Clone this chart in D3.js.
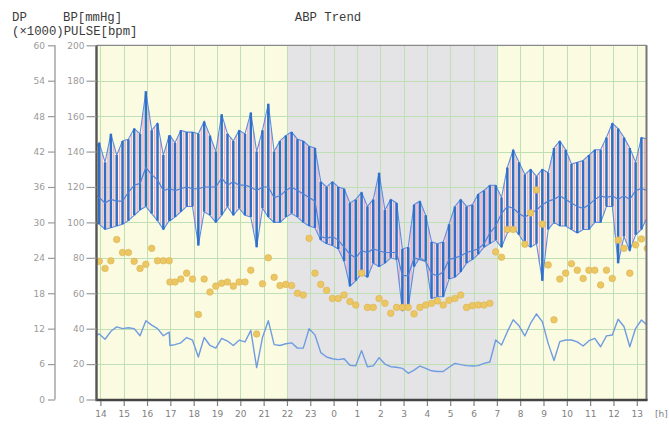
<!DOCTYPE html>
<html>
<head>
<meta charset="utf-8">
<script src="https://cdn.jsdelivr.net/npm/d3@7"></script>
<style>
  html, body { margin: 0; padding: 0; background: #fff; }
  svg { display: block; }
</style>
</head>
<body>
<svg id="chart" width="669" height="424"></svg>
<script>
// ---- Measurement data (ambulatory BP, every 15 min) ----
const times = ["13:42","13:57","14:12","14:27","14:42","14:57","15:12","15:27","15:42","15:57",
  "16:12","16:27","16:42","16:57","16:59","17:12","17:27","17:42","17:57","18:12","18:27","18:42",
  "18:57","19:12","19:27","19:42","19:57","20:12","20:27","20:42","20:57","21:12","21:27","21:42",
  "21:57","22:12","22:27","22:42","22:57","23:12","23:27","23:42","23:57","0:12","0:27","0:42",
  "0:57","1:12","1:27","1:42","1:57","2:12","2:27","2:42","2:57","3:12","3:27","3:42","3:57",
  "4:12","4:27","4:42","4:57","5:12","5:27","5:42","5:57","6:12","6:27","6:42","6:57","7:12",
  "7:27","7:42","7:57","8:12","8:27","8:42","8:57","9:12","9:27","9:42","9:57","10:12","10:27",
  "10:42","10:57","11:12","11:27","11:42","11:57","12:12","12:27","12:42","12:57","13:12","13:27"];

const systolic = [140,145,134,150,138,146,147,153,150,174,152,156,138,149,149,145,152,151,151,150,
  157,149,140,161,150,146,152,150,162,140,152,167,140,146,149,151,147,146,143,142,123,120,123,120,
  119,111,113,117,109,113,128,107,113,111,85,86,110,112,104,89,88,89,99,109,113,109,110,116,118,121,
  121,114,131,141,134,127,130,126,130,128,142,146,141,133,134,135,138,141,141,148,156,153,148,142,
  134,148,147];

const diastolic = [101,99,96,97,98,99,101,104,107,109,105,101,96,101,101,103,106,109,109,87,106,104,
  100,104,109,104,108,104,103,86,108,103,100,100,103,105,103,100,98,97,90,88,87,85,78,64,67,71,69,77,
  75,77,80,79,50,52,75,80,78,57,58,58,68,69,72,77,79,82,86,88,90,86,94,97,93,88,86,88,67,96,100,98,
  98,96,94,96,96,100,100,109,109,77,92,84,93,96,103];

const meanBP = [116,114,111,113,112,112,117,121,122,131,127,124,118,119,119,118,119,120,119,119,120,
  120,120,125,121,123,121,121,120,118,120,120,114,115,118,120,118,116,114,112,92,91,92,90,86,82,80,
  84,83,85,84,83,83,83,70,70,80,79,78,71,70,72,79,80,81,83,84,85,88,94,98,105,109,108,105,103,105,
  107,110,112,113,115,113,111,109,108,110,113,115,114,115,113,115,113,118,119,118];

const pulse = [35.5,37,34,38.5,41,40,40.5,40,36,44.5,42,40,36,38,30.5,31,32,35,33.5,24,35,30.5,29,
  34.5,33,30.5,33.5,32.5,39,18,35,44.5,31,30.5,31.5,32,29,29,40,36.5,26.5,24,23,22.5,23,19.3,19,
  27.6,18.5,19,23.6,20,18.5,18.2,17.6,14.8,16.6,18.9,17.6,16.2,15.8,15.8,18.2,20.4,19.7,19.1,18.9,
  19.1,20.4,21.2,33.6,30.8,38.3,45,41.6,35.9,43.1,48.3,44,31.7,22,32.7,33.6,33.6,32.5,30.2,33.2,
  34.5,29.8,35.9,36.4,45.3,41.2,29.8,40.2,44.9,42];

// Double product (x1000)
const doubleProduct = [null,23.4,22.2,23.5,27.1,24.9,24.9,23.4,22.2,22.9,25.6,23.5,23.5,23.5,19.9,
  19.9,20.4,21.4,20.4,14.4,20.4,18.2,19.2,19.7,19.9,19.2,19.9,19.9,21.9,11.1,19.6,24.0,20.7,19.3,
  19.5,19.3,18.0,17.7,27.3,21.4,19.5,18.5,17.1,17.1,17.7,16.6,16.0,21.4,15.6,15.6,17.1,16.3,14.6,
  15.6,15.6,15.6,14.5,15.6,16.0,16.3,16.7,16.0,16.8,17.1,17.7,15.6,15.9,16.0,16.0,16.3,25.0,24.1,
  28.8,28.8,null,26.3,31.6,35.5,29.7,22.8,13.5,20.4,21.4,23.0,21.9,20.5,21.9,21.9,19.4,21.9,20.5,
  27.0,25.6,21.4,26.2,27.2,25.6];

const hourLabels = ["14","15","16","17","18","19","20","21","22","23","0","1","2","3","4","5","6",
  "7","8","9","10","11","12","13"];
const bpTicks = [0,20,40,60,80,100,120,140,160,180,200];
const dpTicks = [0,6,12,18,24,30,36,42,48,54,60];
const recordStart = "13:50", recordEnd = "13:25";
const sleepStart = "22:00", sleepEnd = "7:00";

// ---- helpers ----
// Turn a list of clock times into continuous hours, rolling over midnight.
function toHours(list) {
  let off = 0, prev = -Infinity;
  return list.map(s => {
    const [h, m] = s.split(":").map(Number);
    let v = h + m / 60 + off;
    if (v < prev) { off += 24; v += 24; }
    prev = v;
    return v;
  });
}
const tHours = toHours(times);
const domStart = toHours([recordStart])[0];
const domEnd = toHours([recordEnd])[0] + 24;
const sleepA = toHours([sleepStart])[0];
const sleepB = toHours([sleepEnd])[0] + 24;
const hourPos = toHours(hourLabels.map(h => h + ":00"));

const rows = times.map((t, i) => ({
  t: tHours[i], sys: systolic[i], dia: diastolic[i], map: meanBP[i],
  hr: pulse[i], dp: doubleProduct[i]
}));

// ---- layout ----
const plot = { left: 96.5, right: 646.5, top: 45.3, bottom: 399.5 };
const svg = d3.select("#chart");

const x = d3.scaleLinear().domain([domStart, domEnd]).range([plot.left, plot.right]);
const y = d3.scaleLinear().domain([0, 200]).range([plot.bottom, plot.top]);
const yDP = d3.scaleLinear().domain([0, 60]).range([plot.bottom, plot.top]);

svg.append("defs").append("clipPath").attr("id", "plotClip")
  .append("rect")
  .attr("x", plot.left).attr("y", plot.top)
  .attr("width", plot.right - plot.left).attr("height", plot.bottom - plot.top);

// background: awake / asleep periods
const bg = svg.append("g");
bg.append("rect")
  .attr("x", plot.left).attr("y", plot.top)
  .attr("width", plot.right - plot.left).attr("height", plot.bottom - plot.top)
  .attr("fill", "#fbfbe1");
bg.append("rect")
  .attr("x", x(sleepA)).attr("y", plot.top)
  .attr("width", x(sleepB) - x(sleepA)).attr("height", plot.bottom - plot.top)
  .attr("fill", "#e4e4e7");

// grid
const grid = svg.append("g").attr("stroke", "#bfe0b4").attr("stroke-width", 1);
grid.selectAll("line.v").data(hourPos).join("line")
  .attr("x1", d => Math.round(x(d)) + 0.5).attr("x2", d => Math.round(x(d)) + 0.5)
  .attr("y1", plot.top).attr("y2", plot.bottom);
grid.selectAll("line.h").data(bpTicks.filter(v => v > 0 && v < 200)).join("line")
  .attr("x1", plot.left).attr("x2", plot.right)
  .attr("y1", d => Math.round(y(d)) + 0.5).attr("y2", d => Math.round(y(d)) + 0.5);

const marks = svg.append("g").attr("clip-path", "url(#plotClip)");

// pink hatch between systolic and diastolic envelopes
const mids = [];
for (let i = 0; i < rows.length - 1; i++) {
  const a = rows[i], b = rows[i + 1];
  if (b.t - a.t < 0.1) continue;
  mids.push({ t: (a.t + b.t) / 2, sys: (a.sys + b.sys) / 2, dia: (a.dia + b.dia) / 2 });
}
marks.append("g").selectAll("line").data(mids).join("line")
  .attr("x1", d => x(d.t)).attr("x2", d => x(d.t))
  .attr("y1", d => y(d.sys)).attr("y2", d => y(d.dia))
  .attr("stroke", "#f2a9c2").attr("stroke-width", 1.3);

// envelope lines
const lineSys = d3.line().x(d => x(d.t)).y(d => y(d.sys));
const lineDia = d3.line().x(d => x(d.t)).y(d => y(d.dia));
marks.append("path").attr("d", lineSys(rows))
  .attr("fill", "none").attr("stroke", "#5a8ee0").attr("stroke-width", 1.1);
marks.append("path").attr("d", lineDia(rows))
  .attr("fill", "none").attr("stroke", "#5a8ee0").attr("stroke-width", 1.1);

// systolic–diastolic bars
marks.append("g").selectAll("line").data(rows).join("line")
  .attr("x1", d => x(d.t)).attr("x2", d => x(d.t))
  .attr("y1", d => y(d.sys)).attr("y2", d => y(d.dia))
  .attr("stroke", "#2f6ec9").attr("stroke-width", 2.5);

// mean arterial pressure
marks.append("path")
  .attr("d", d3.line().x(d => x(d.t)).y(d => y(d.map))(rows))
  .attr("fill", "none").attr("stroke", "#4f82d6").attr("stroke-width", 1.2);

// pulse
marks.append("path")
  .attr("d", d3.line().x(d => x(d.t)).y(d => y(d.hr))(rows))
  .attr("fill", "none").attr("stroke", "#6f9be0").attr("stroke-width", 1.4)
  .attr("stroke-linejoin", "round");

// double product dots
marks.append("g").selectAll("circle").data(rows.filter(d => d.dp != null)).join("circle")
  .attr("cx", d => x(d.t)).attr("cy", d => yDP(d.dp)).attr("r", 3.3)
  .attr("fill", "#ebc763").attr("stroke", "#dcb253").attr("stroke-width", 0.6);

// frame
svg.append("line").attr("x1", plot.left).attr("x2", plot.right)
  .attr("y1", plot.top).attr("y2", plot.top).attr("stroke", "#8a8a8a").attr("stroke-width", 1.2);
svg.append("line").attr("x1", plot.right).attr("x2", plot.right)
  .attr("y1", plot.top).attr("y2", plot.bottom + 1).attr("stroke", "#777").attr("stroke-width", 2);
svg.append("line").attr("x1", plot.left).attr("x2", plot.left)
  .attr("y1", plot.top).attr("y2", plot.bottom + 1.5).attr("stroke", "#555").attr("stroke-width", 2.4);
svg.append("line").attr("x1", plot.left - 1).attr("x2", plot.right + 1)
  .attr("y1", plot.bottom + 0.5).attr("y2", plot.bottom + 0.5).attr("stroke", "#444").attr("stroke-width", 2.4);

// axes
const tickFont = "DejaVu Sans, sans-serif";
function styleAxis(g, color) {
  g.select(".domain").remove();
  g.selectAll(".tick line").attr("stroke", color).attr("stroke-width", 1.2);
  g.selectAll(".tick text").attr("fill", color).attr("font-family", tickFont).attr("font-size", 9);
}

const bpAxis = svg.append("g").attr("transform", `translate(${plot.left},0)`)
  .call(d3.axisLeft(y).tickValues(bpTicks).tickSize(10).tickPadding(2).tickFormat(d3.format("d")));
styleAxis(bpAxis, "#9a9a9a");

const dpX = 55;
svg.append("line").attr("x1", dpX).attr("x2", dpX).attr("y1", plot.top).attr("y2", plot.bottom)
  .attr("stroke", "#a5a5a5").attr("stroke-width", 1.5);
const dpAxis = svg.append("g").attr("transform", `translate(${dpX},0)`)
  .call(d3.axisLeft(yDP).tickValues(dpTicks).tickSize(7).tickPadding(3).tickFormat(d3.format("d")));
styleAxis(dpAxis, "#9a9a9a");

const xAxis = svg.append("g").attr("transform", `translate(0,${plot.bottom + 1.5})`)
  .call(d3.axisBottom(x).tickValues(hourPos).tickSize(5).tickPadding(5)
    .tickFormat((d, i) => hourLabels[i]));
styleAxis(xAxis, "#808080");

svg.append("text").attr("x", 655).attr("y", 417)
  .attr("font-family", tickFont).attr("font-size", 9).attr("fill", "#808080").text("[h]");

// titles
const headFont = "Liberation Mono, DejaVu Sans Mono, monospace";
const head = svg.append("g").attr("font-family", headFont).attr("font-size", 12.3).attr("fill", "#3a3a3a");
head.append("text").attr("x", 12).attr("y", 21).text("DP");
head.append("text").attr("x", 63).attr("y", 21).text("BP[mmHg]");
head.append("text").attr("x", 12).attr("y", 35).text("(×1000)PULSE[bpm]");
head.append("text").attr("x", 328).attr("y", 21).attr("text-anchor", "middle").text("ABP Trend");
</script>
</body>
</html>
